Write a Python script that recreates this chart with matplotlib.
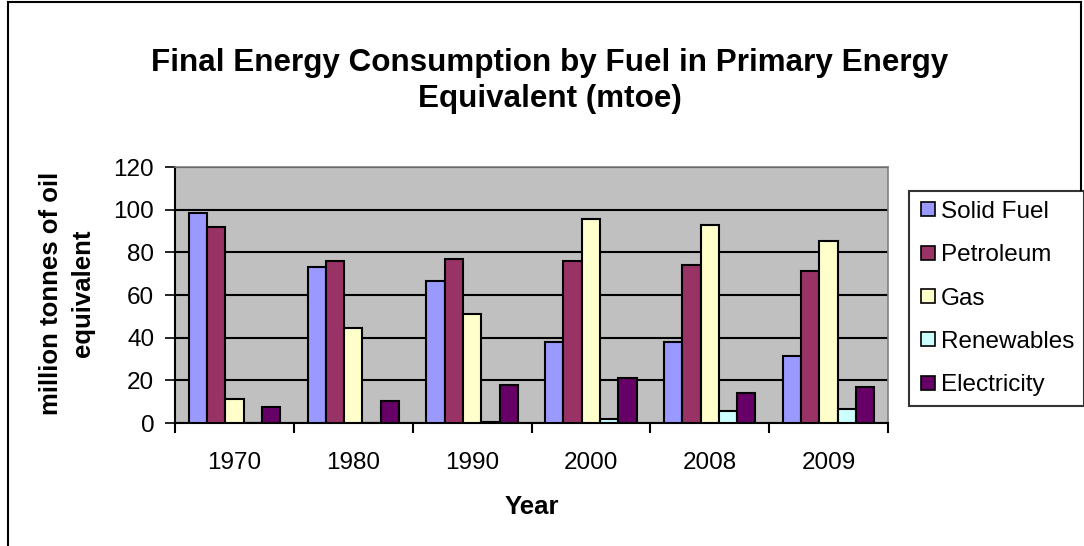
import numpy as np
import matplotlib.pyplot as plt
from matplotlib.lines import Line2D

years = ['1970', '1980', '1990', '2000', '2008', '2009']
fuels = ['Solid Fuel', 'Petroleum', 'Gas', 'Renewables', 'Electricity']
solid_fuel = [98.3, 73.3, 66.7, 38.0, 38.0, 31.6]
petroleum = [91.7, 76.1, 77.0, 76.1, 74.1, 71.4]
gas = [11.1, 44.4, 51.1, 95.5, 92.7, 85.5]
renewables = [0.0, 0.0, 0.5, 1.8, 5.5, 6.4]
electricity = [7.4, 10.3, 17.7, 21.2, 13.9, 16.7]
colours = ['#9999FF', '#993366', '#FFFFCC', '#CCFFFF', '#660066']

plt.rcParams['font.family'] = ['Liberation Sans', 'DejaVu Sans']
W, H = 1084, 546
fig = plt.figure(figsize=(W / 100, H / 100), dpi=100)
ax = fig.add_axes([175 / W, 1 - 423 / H, (888 - 175) / W, (423 - 167) / H])
ax.set_facecolor('#C0C0C0')

series = [solid_fuel, petroleum, gas, renewables, electricity]
x = np.arange(len(years)) + 0.5
w = 1 / 6.5
for i, (vals, c) in enumerate(zip(series, colours)):
    ax.bar(x + (i - 2) * w, vals, width=w, color=c, edgecolor='black',
           linewidth=1.5, zorder=3, label=fuels[i])

ax.set_xlim(0, len(years))
ax.set_ylim(0, 120)
ax.set_yticks(range(0, 121, 20))
ax.tick_params(axis='y', labelsize=17.5, length=7, width=1.2, direction='out', pad=8)
ax.set_xticks(x)
ax.set_xticklabels(years)
ax.set_xticks(np.arange(len(years) + 1), minor=True)
ax.tick_params(axis='x', which='major', length=0, labelsize=17.5, pad=21)
ax.tick_params(axis='x', which='minor', length=7, width=1.5, direction='out')
ax.yaxis.grid(True, color='black', linewidth=1.5, zorder=1)
ax.set_axisbelow(True)
for s in ['top', 'right']:
    ax.spines[s].set_color('#808080')
    ax.spines[s].set_linewidth(1.2)
for s in ['left', 'bottom']:
    ax.spines[s].set_linewidth(1.5)

ax.set_xlabel('Year', fontsize=18.5, fontweight='bold', labelpad=15)
fig.text(67 / W, 1 - 293 / H, 'million tonnes of oil\nequivalent', rotation=90,
         ha='center', va='center', fontsize=18.5, fontweight='bold', linespacing=1.4)

fig.text(550 / W, 1 - 81 / H,
         'Final Energy Consumption by Fuel in Primary Energy\nEquivalent (mtoe)',
         ha='center', va='center', fontsize=22.6, fontweight='bold', linespacing=1.3)

handles = [Line2D([], [], marker='s', linestyle='none', markersize=10,
                  markerfacecolor=c, markeredgecolor='black', markeredgewidth=1.2)
           for c in colours]
leg = fig.legend(handles, fuels, loc='upper left',
                 bbox_to_anchor=(909 / W, 1 - 191 / H), fontsize=17.5,
                 frameon=True, fancybox=False, edgecolor='black',
                 borderpad=0.4, labelspacing=0.88, handletextpad=0.1,
                 handlelength=0.8, borderaxespad=0)
leg.get_frame().set_linewidth(1.5)

# chart border
fig.add_artist(Line2D([8 / W, 8 / W], [0, 1 - 2 / H], color='black', linewidth=1.5))
fig.add_artist(Line2D([8 / W, 1081 / W], [1 - 2 / H, 1 - 2 / H], color='black', linewidth=1.5))
fig.add_artist(Line2D([1081 / W, 1081 / W], [1 - 2 / H, 1 - 191 / H], color='black', linewidth=1.5))

fig.savefig('out.png', dpi=100)
